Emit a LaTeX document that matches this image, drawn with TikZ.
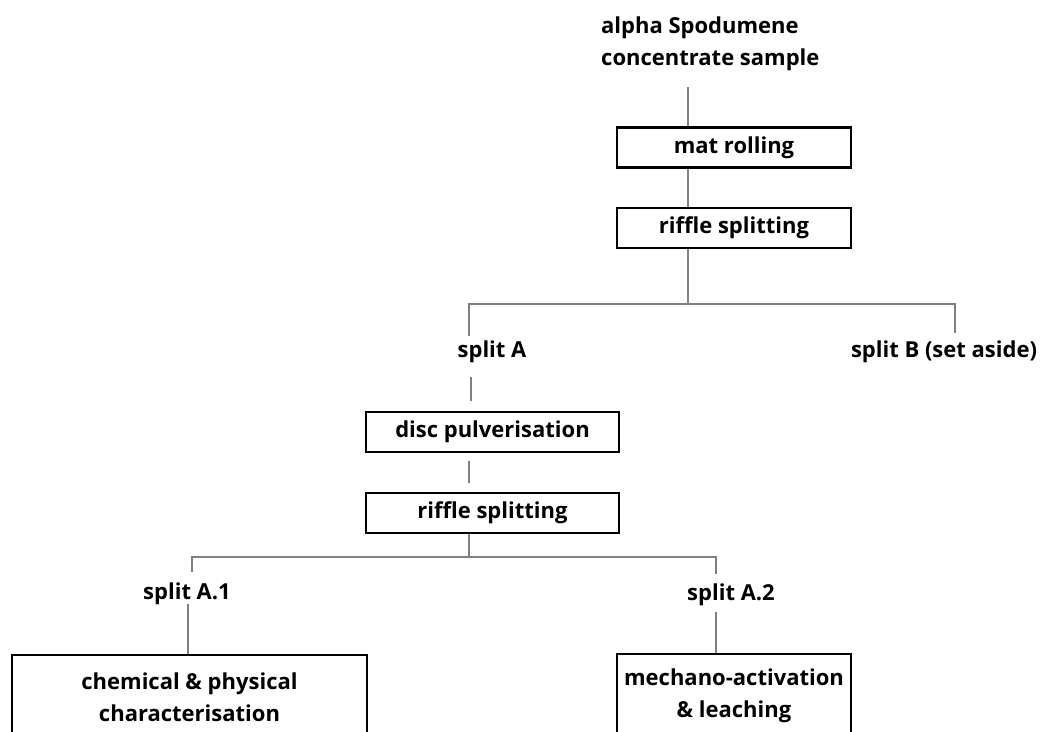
\documentclass[tikz,border=0pt]{standalone}
\usepackage{fontspec}
\setmainfont{Open Sans}

\begin{document}
\begin{tikzpicture}[x=1pt,y=-1pt,
  font=\fontsize{22}{32}\selectfont\bfseries,
  stage/.style={draw=black,line width=2.4pt,inner sep=0pt,minimum height=40pt},
  lbl/.style={inner sep=0pt},
  link/.style={draw=black!50,line width=1.6pt}]
\useasboundingbox (0,0) rectangle (1048,731);

\node[lbl,anchor=base west,align=left] (sample) at (601,65) {alpha Spodumene\\concentrate sample};

\node[stage,minimum width=234pt] (mat) at (734,147.5) {mat rolling};
\node[stage,minimum width=234pt] (riffleone) at (734,228) {riffle splitting};

\node[lbl] (splitA) at (492,352) {split A};
\node[lbl] (splitB) at (944,352) {split B (set aside)};

\node[stage,minimum width=253pt] (disc) at (492.5,432) {disc pulverisation};
\node[stage,minimum width=253pt] (riffletwo) at (492.5,513) {riffle splitting};

\node[lbl] (splitAone) at (187,594) {split A.1};
\node[lbl] (splitAtwo) at (731,595) {split A.2};

\node[stage,minimum width=355pt,minimum height=84pt,align=center] (chem) at (189.5,697) {chemical \& physical\\characterisation};
\node[stage,minimum width=234pt,minimum height=84pt,align=center] (mech) at (734,696) {mechano-activation\\\& leaching};

% first split
\coordinate (samplefoot) at (688,87);
\coordinate (hubone) at (688,304);
\coordinate (endA) at (469,336);
\coordinate (endB) at (955,333);
\draw[link] (samplefoot) -- (samplefoot |- mat.north);
\draw[link] (mat.south -| samplefoot) -- (riffleone.north -| samplefoot);
\draw[link] (riffleone.south -| samplefoot) -- (hubone) -| (endA);
\draw[link] (hubone) -| (endB);

% split A
\coordinate (footA) at (471,377);
\coordinate (topdisc) at (471,401);
\draw[link] (footA) -- (topdisc);
\draw[link,shorten <=8pt,shorten >=9pt] ([xshift=-23.5pt]disc.south) -- ([xshift=-23.5pt]riffletwo.north);

% second split
\coordinate (hubtwo) at (469,557);
\coordinate (endAone) at (192,572);
\coordinate (endAtwo) at (716,574);
\draw[link] (riffletwo.south -| hubtwo) -- (hubtwo) -| (endAone);
\draw[link] (hubtwo) -| (endAtwo);

\coordinate (footAone) at (188,604);
\coordinate (footAtwo) at (716,612);
\draw[link] (footAone) -- (footAone |- chem.north);
\draw[link] (footAtwo) -- (footAtwo |- mech.north);

\end{tikzpicture}
\end{document}
